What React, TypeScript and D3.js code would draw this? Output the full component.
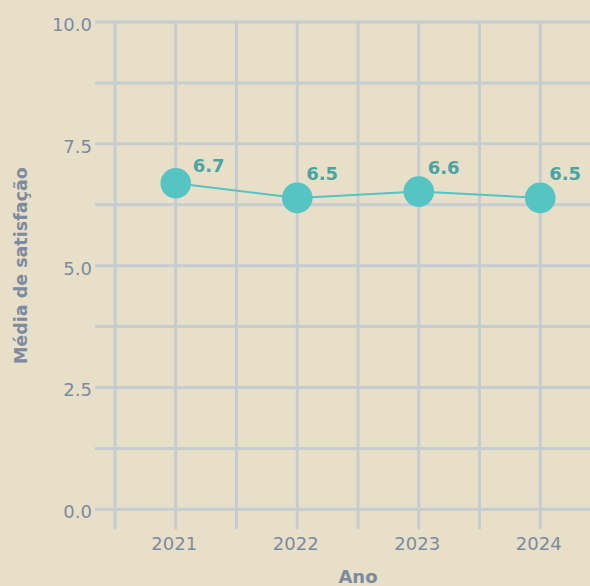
import React from "react";
import * as d3 from "d3";

const years = [2021, 2022, 2023, 2024];
const values = [6.69, 6.39, 6.52, 6.39];
const valueLabels = ["6.7", "6.5", "6.6", "6.5"];
const yTicks = [0, 2.5, 5, 7.5, 10];
const yTickLabels = ["0.0", "2.5", "5.0", "7.5", "10.0"];
const yGrid = [0, 1.25, 2.5, 3.75, 5, 6.25, 7.5, 8.75, 10];
const xGrid = [2020.5, 2021, 2021.5, 2022, 2022.5, 2023, 2023.5, 2024, 2024.5];
const xTitle = "Ano";
const yTitle = "Média de satisfação";

const W = 590;
const H = 586;
const BG = "#e8dfc8";
const GRID = "#c6cdd1";
const TEXT = "#7c8ba0";
const DOT = "#56c4c3";
const LABEL = "#4aa5a2";
const FONT = "'DejaVu Sans', sans-serif";

export default function App() {
  const x = d3.scaleLinear().domain([2020.5, 2024.5]).range([115, 601]);
  const y = d3.scaleLinear().domain([0, 10]).range([509.3, 22]);
  const pts = years.map((yr, i) => [x(yr), y(values[i])] as [number, number]);
  const line = d3.line()(pts) || "";

  return (
    <svg
      width={W}
      height={H}
      style={{ position: "absolute", left: 0, top: 0, overflow: "hidden", display: "block" }}
    >
      <rect width={W} height={H} fill={BG} />
      {yGrid.map((v) => (
        <line key={"h" + v} x1={x(2020.5) - 20} x2={W + 20} y1={y(v)} y2={y(v)} stroke={GRID} strokeWidth={3} />
      ))}
      {xGrid.map((v) => (
        <line key={"v" + v} x1={x(v)} x2={x(v)} y1={y(10)} y2={y(0) + 20} stroke={GRID} strokeWidth={3} />
      ))}
      {yTicks.map((v, i) => (
        <text key={"yt" + v} x={92} y={y(v) + 9} textAnchor="end" fontFamily={FONT} fontSize={18} fill={TEXT}>
          {yTickLabels[i]}
        </text>
      ))}
      {years.map((yr) => (
        <text key={"xt" + yr} x={x(yr) - 1.5} y={550} textAnchor="middle" fontFamily={FONT} fontSize={18} fill={TEXT}>
          {yr}
        </text>
      ))}
      <text x={(x(2020.5) + x(2024.5)) / 2} y={583} textAnchor="middle" fontFamily={FONT} fontWeight="bold" fontSize={18} fill={TEXT}>
        {xTitle}
      </text>
      <text
        transform={`translate(27,${(y(0) + y(10)) / 2}) rotate(-90)`}
        textAnchor="middle"
        fontFamily={FONT}
        fontWeight="bold"
        fontSize={17.5}
        fill={TEXT}
      >
        {yTitle}
      </text>
      <path d={line} fill="none" stroke={DOT} strokeWidth={2} />
      {pts.map((p, i) => (
        <circle key={"c" + i} cx={p[0]} cy={p[1]} r={15.3} fill={DOT} />
      ))}
      {pts.map((p, i) => (
        <text
          key={"l" + i}
          x={p[0] + (i === 0 ? 17 : 9)}
          y={p[1] + (i === 0 ? -11 : -18)}
          fontFamily={FONT}
          fontWeight="bold"
          fontSize={18}
          fill={LABEL}
        >
          {valueLabels[i]}
        </text>
      ))}
    </svg>
  );
}
